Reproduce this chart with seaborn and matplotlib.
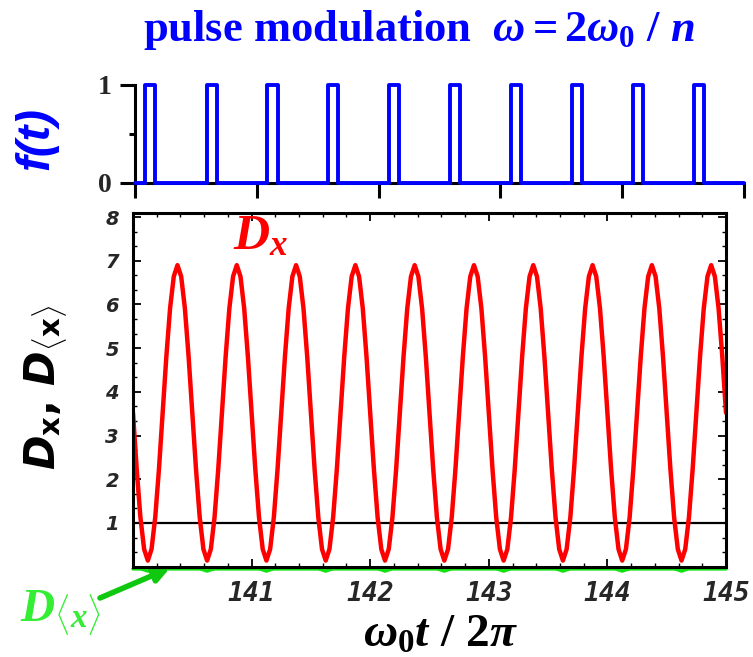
import numpy as np
import pandas as pd
import matplotlib
matplotlib.use("Agg")
import matplotlib.pyplot as plt
import seaborn as sns
from matplotlib.ticker import MultipleLocator

# ---------------- data ----------------
# pulse train f(t): start / end of each pulse (in omega0 t / 2pi units)
pulse_on = [140.085, 140.590, 141.086, 141.588, 142.086, 142.588, 143.086, 143.584, 144.089, 144.588]
pulse_off = [140.167, 140.674, 141.172, 141.670, 142.168, 142.670, 143.168, 143.667, 144.168, 144.674]

# D_x samples, every 0.03125 from 140 to 145
dx_start, dx_step = 140.0, 0.03125
dx_values = [
    3.52, 2.23, 1.13, 0.40, 0.14, 0.40, 1.13, 2.23, 3.52, 4.81, 5.91, 6.64, 6.90, 6.64, 5.91, 4.81,
    3.52, 2.23, 1.13, 0.40, 0.14, 0.40, 1.13, 2.23, 3.52, 4.81, 5.91, 6.64, 6.90, 6.64, 5.91, 4.81,
    3.52, 2.23, 1.13, 0.40, 0.14, 0.40, 1.13, 2.23, 3.52, 4.81, 5.91, 6.64, 6.90, 6.64, 5.91, 4.81,
    3.52, 2.23, 1.13, 0.40, 0.14, 0.40, 1.13, 2.23, 3.52, 4.81, 5.91, 6.64, 6.90, 6.64, 5.91, 4.81,
    3.52, 2.23, 1.13, 0.40, 0.14, 0.40, 1.13, 2.23, 3.52, 4.81, 5.91, 6.64, 6.90, 6.64, 5.91, 4.81,
    3.52, 2.23, 1.13, 0.40, 0.14, 0.40, 1.13, 2.23, 3.52, 4.81, 5.91, 6.64, 6.90, 6.64, 5.91, 4.81,
    3.52, 2.23, 1.13, 0.40, 0.14, 0.40, 1.13, 2.23, 3.52, 4.81, 5.91, 6.64, 6.90, 6.64, 5.91, 4.81,
    3.52, 2.23, 1.13, 0.40, 0.14, 0.40, 1.13, 2.23, 3.52, 4.81, 5.91, 6.64, 6.90, 6.64, 5.91, 4.81,
    3.52, 2.23, 1.13, 0.40, 0.14, 0.40, 1.13, 2.23, 3.52, 4.81, 5.91, 6.64, 6.90, 6.64, 5.91, 4.81,
    3.52, 2.23, 1.13, 0.40, 0.14, 0.40, 1.13, 2.23, 3.52, 4.81, 5.91, 6.64, 6.90, 6.64, 5.91, 4.81,
    3.52,
]
# D_<x> samples on the same grid (tiny, hugging the axis)
dmean_values = [
    -0.05, -0.05, -0.05, -0.07, -0.10, -0.07, -0.05, -0.05, -0.05, -0.05, -0.05, -0.05, -0.05, -0.05, -0.05, -0.05,
    -0.05, -0.05, -0.05, -0.07, -0.10, -0.07, -0.05, -0.05, -0.05, -0.05, -0.05, -0.05, -0.05, -0.05, -0.05, -0.05,
    -0.05, -0.05, -0.05, -0.07, -0.10, -0.07, -0.05, -0.05, -0.05, -0.05, -0.05, -0.05, -0.05, -0.05, -0.05, -0.05,
    -0.05, -0.05, -0.05, -0.07, -0.10, -0.07, -0.05, -0.05, -0.05, -0.05, -0.05, -0.05, -0.05, -0.05, -0.05, -0.05,
    -0.05, -0.05, -0.05, -0.07, -0.10, -0.07, -0.05, -0.05, -0.05, -0.05, -0.05, -0.05, -0.05, -0.05, -0.05, -0.05,
    -0.05, -0.05, -0.05, -0.07, -0.10, -0.07, -0.05, -0.05, -0.05, -0.05, -0.05, -0.05, -0.05, -0.05, -0.05, -0.05,
    -0.05, -0.05, -0.05, -0.07, -0.10, -0.07, -0.05, -0.05, -0.05, -0.05, -0.05, -0.05, -0.05, -0.05, -0.05, -0.05,
    -0.05, -0.05, -0.05, -0.07, -0.10, -0.07, -0.05, -0.05, -0.05, -0.05, -0.05, -0.05, -0.05, -0.05, -0.05, -0.05,
    -0.05, -0.05, -0.05, -0.07, -0.10, -0.07, -0.05, -0.05, -0.05, -0.05, -0.05, -0.05, -0.05, -0.05, -0.05, -0.05,
    -0.05, -0.05, -0.05, -0.07, -0.10, -0.07, -0.05, -0.05, -0.05, -0.05, -0.05, -0.05, -0.05, -0.05, -0.05, -0.05,
    -0.05,
]
reference_level = 1.0

x_ticks = [140, 141, 142, 143, 144, 145]
x_tick_labels = ["", "141", "142", "143", "144", "145"]
y_ticks = [1, 2, 3, 4, 5, 6, 7, 8]
y_tick_labels = ["1", "2", "3", "4", "5", "6", "7", "8"]
top_y_ticks = [0, 1]
top_y_tick_labels = ["0", "1"]

# ---------------- style ----------------
sns.set_theme(style="ticks")
plt.rcParams["font.family"] = ["DejaVu Sans"]
plt.rcParams["mathtext.fontset"] = "custom"
plt.rcParams["mathtext.rm"] = "Liberation Serif:bold"
plt.rcParams["mathtext.it"] = "Liberation Serif:italic:bold"
plt.rcParams["mathtext.bf"] = "DejaVu Sans:bold"
plt.rcParams["mathtext.sf"] = "DejaVu Sans:bold:italic"

W, H = 753, 657
fig = plt.figure(figsize=(W / 100, H / 100), dpi=100)

def fx(px):
    return px / W

def fy(py):
    return 1 - py / H

# ---------------- top panel: pulse train ----------------
ax_top = fig.add_axes([fx(135), fy(182.7), fx(744) - fx(135), fy(85) - fy(182.7)])
px = [140.0]
py = [0.0]
for a, b in zip(pulse_on, pulse_off):
    px += [a, a, b, b]
    py += [0, 1, 1, 0]
px.append(145.0)
py.append(0.0)
pulse_df = pd.DataFrame({"t": px, "f": py})
sns.lineplot(data=pulse_df, x="t", y="f", ax=ax_top, color="#0000ff", lw=2.8,
             sort=False, estimator=None, clip_on=False, zorder=5)
ax_top.set_xlim(140, 145)
ax_top.set_ylim(0, 1)
for s in ["top", "right"]:
    ax_top.spines[s].set_visible(False)
for s in ["left", "bottom"]:
    ax_top.spines[s].set_linewidth(2.2)
    ax_top.spines[s].set_color("black")
ax_top.set_xticks(x_ticks, labels=[""] * len(x_ticks))
ax_top.set_yticks(top_y_ticks, labels=top_y_tick_labels, fontsize=20,
                  fontfamily="Liberation Serif", fontweight="bold")
ax_top.yaxis.set_minor_locator(MultipleLocator(0.5))
ax_top.tick_params(axis="both", which="major", direction="out", length=11, width=2.2, color="black")
ax_top.tick_params(axis="y", which="major", pad=6)
ax_top.tick_params(axis="y", which="minor", direction="out", length=4, width=2.2, color="black")
ax_top.set_xlabel("")
ax_top.set_ylabel("")
ax_top.patch.set_alpha(0)

fig.text(fx(36), fy(138), "f(t)", rotation=90, ha="center", va="center",
         fontsize=34, fontfamily="Liberation Sans", fontweight="bold", fontstyle="italic",
         color="#0000ff")

fig.text(fx(143), fy(30), r"pulse modulation  $\omega = 2\omega_0\ /\ n$", ha="left", va="center",
         fontsize=32, fontfamily="Liberation Serif", fontweight="bold", color="#0000ff")

# ---------------- bottom panel ----------------
ax = fig.add_axes([fx(133), fy(566.7), fx(726) - fx(133), fy(212.7) - fy(566.7)])
t_grid = dx_start + dx_step * np.arange(len(dx_values))
df = pd.DataFrame({"t": t_grid, "Dx": dx_values, "Dmean": dmean_values})

sns.lineplot(data=df, x="t", y="Dmean", ax=ax, color="#11e011", lw=2.5,
             sort=False, estimator=None, clip_on=False, zorder=1)
ax.axhline(reference_level, color="black", lw=1.6, zorder=2)
sns.lineplot(data=df, x="t", y="Dx", ax=ax, color="#ff0000", lw=3.2,
             sort=False, estimator=None, zorder=3)

ax.set_xlim(140, 145)
ax.set_ylim(0, 8.1)
for s in ax.spines.values():
    s.set_linewidth(2.2)
    s.set_color("black")
    s.set_zorder(4)
ax.set_xticks(x_ticks, labels=x_tick_labels, fontsize=19, fontfamily="DejaVu Sans Mono",
              fontweight="bold", fontstyle="italic")
ax.set_yticks(y_ticks, labels=y_tick_labels, fontsize=14, fontfamily="DejaVu Sans",
              fontweight="bold", fontstyle="italic")
ax.xaxis.set_minor_locator(MultipleLocator(0.2))
ax.yaxis.set_minor_locator(MultipleLocator(1 / 3))
ax.tick_params(axis="both", which="major", direction="in", length=6, width=1.3,
               top=True, right=True, color="black")
ax.tick_params(axis="both", which="minor", direction="in", length=3, width=1.0,
               top=True, right=True, color="black")
ax.tick_params(axis="x", which="major", pad=10)
ax.tick_params(axis="y", which="major", pad=10)
ax.set_xlabel("")
ax.set_ylabel("")

ax.text(140.84, 8.14, r"$D_x$", ha="left", va="top", fontsize=36, color="#ff0000")

fig.text(fx(46), fy(387), r"$\mathsf{D}_{\mathbf{x}}$, $\mathsf{D}_{\langle\mathbf{x}\rangle}$",
         rotation=90, ha="center", va="center", fontsize=30, fontfamily="DejaVu Sans",
         fontweight="bold", color="black")

fig.text(fx(440), fy(634), r"$\omega_0 t\ /\ 2\pi$", ha="center", va="center",
         fontsize=34, color="black")

fig.text(fx(20), fy(614), r"$D_{\langle x\rangle}$", ha="left", va="center",
         fontsize=34, color="#33ee33")
ax.annotate("", xy=(fx(170), fy(568)), xytext=(fx(100), fy(598)),
            xycoords="figure fraction", textcoords="figure fraction",
            arrowprops=dict(arrowstyle="-|>", color="#11c811", lw=4, mutation_scale=22,
                            shrinkA=0, shrinkB=0))

fig.savefig("out.png", dpi=100)
